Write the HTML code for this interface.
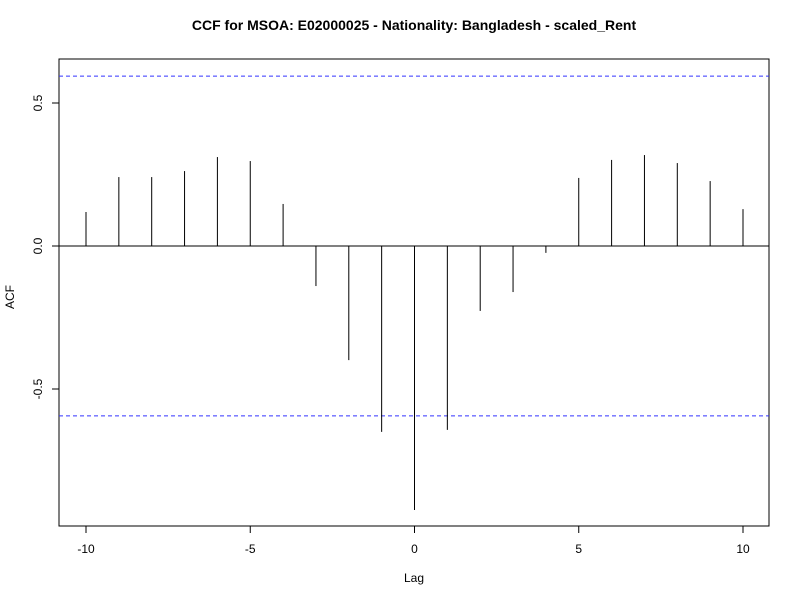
<!DOCTYPE html>
<html><head><meta charset="utf-8"><style>
body{margin:0;background:#fff}
svg{display:block;font-family:"Liberation Sans",Arial,sans-serif}
</style></head><body>
<svg id="chart" width="800" height="600">
<text x="414" y="30" text-anchor="middle" font-size="14" font-weight="bold">CCF for MSOA: E02000025 - Nationality: Bangladesh - scaled_Rent</text>
<rect x="59" y="59" width="710" height="467" fill="none" stroke="#000"/>
<text x="414" y="582" text-anchor="middle" font-size="12">Lag</text>
<text transform="translate(14,297) rotate(-90)" text-anchor="middle" font-size="12">ACF</text>
<g id="marks"></g>
</svg>
<script>
const lags=[-10,-9,-8,-7,-6,-5,-4,-3,-2,-1,0,1,2,3,4,5,6,7,8,9,10];
const acfValues=[0.119,0.241,0.241,0.262,0.311,0.297,0.147,-0.14,-0.399,-0.65,-0.923,-0.643,-0.227,-0.161,-0.024,0.238,0.301,0.318,0.29,0.227,0.129];
const xTicks=[-10,-5,0,5,10];
const yTicks=[-0.5,0,0.5];
const yTickLabels=["-0.5","0.0","0.5"];
const confLimit=0.594;
const NS="http://www.w3.org/2000/svg";
const g=document.getElementById('marks');
const xs=v=>86+(v+10)*(743-86)/20;
const ys=v=>246-v*286;
function mk(t,a){const e=document.createElementNS(NS,t);for(const k in a)e.setAttribute(k,a[k]);g.appendChild(e);return e;}
let e=mk('line',{x1:59,x2:769,y1:ys(0),y2:ys(0),stroke:'#000'});


[confLimit,-confLimit].forEach((c,i)=>{
 const l=mk('line',{x1:59,x2:769,y1:ys(c),y2:ys(c),stroke:'#3333ff','stroke-dasharray':'4,3'});
 
 
});
lags.forEach((lag,i)=>{
 const l=mk('line',{x1:xs(lag),x2:xs(lag),y1:ys(0),y2:ys(acfValues[i]),stroke:'#000'});
 
 
});
xTicks.forEach(t=>{
 const l=mk('line',{x1:xs(t),x2:xs(t),y1:526,y2:533,stroke:'#000'});
 
 
 const tx=mk('text',{x:xs(t),y:553,'text-anchor':'middle','font-size':12});
 tx.textContent=t;
 
 
});
yTicks.forEach((t,i)=>{
 const l=mk('line',{x1:52,x2:59,y1:ys(t),y2:ys(t),stroke:'#000'});
 
 
 const tx=mk('text',{transform:`translate(42,${ys(t)}) rotate(-90)`,'text-anchor':'middle','font-size':12});
 tx.textContent=yTickLabels[i];
 
 
});
</script>
</body></html>
